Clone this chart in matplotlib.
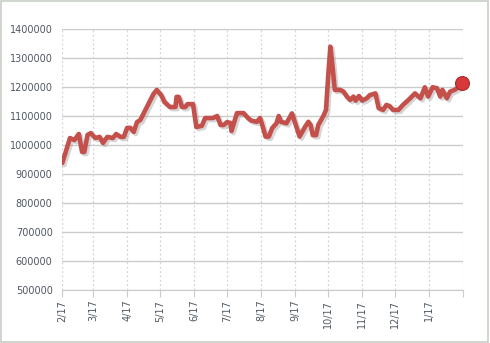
import numpy as np
import matplotlib.pyplot as plt
import matplotlib.patheffects as pe
from matplotlib.patches import Rectangle

# days since 2/1
days = [0, 7, 11, 15, 18, 20, 23, 26, 30, 34, 37, 41, 46, 49, 53, 56, 59, 62, 65, 68,
        71, 77, 83, 86, 90, 93, 98, 103, 104, 106, 109, 112, 114, 119, 122, 127, 130, 137, 141, 144,
        147, 150, 153, 154, 159, 165, 169, 172, 177, 180, 182, 185, 188, 191, 195, 197, 199, 204, 209, 212,
        216, 221, 224, 226, 228, 231, 233, 238, 240, 242, 244, 246, 248, 253, 256, 259, 262, 265, 267, 270,
        273, 277, 280, 285, 288, 292, 295, 298, 301, 306, 310, 315, 321, 326, 330, 333, 337, 341, 344, 346,
        350, 353, 357, 362, 364]
values = [938000, 1024000, 1017000, 1038000, 976000, 976000, 1035000, 1041000, 1024000, 1028000,
          1007000, 1028000, 1024000, 1038000, 1028000, 1028000, 1059000, 1059000, 1045000, 1079000,
          1086000, 1131000, 1176000, 1190000, 1172000, 1148000, 1131000, 1131000, 1166000, 1166000,
          1131000, 1131000, 1141000, 1141000, 1062000, 1066000, 1093000, 1093000, 1100000, 1069000,
          1069000, 1079000, 1076000, 1048000, 1110000, 1110000, 1093000, 1084000, 1080000, 1093000,
          1069000, 1029000, 1029000, 1058000, 1075000, 1100000, 1080000, 1075000, 1109000, 1075000,
          1029000, 1063000, 1080000, 1069000, 1034000, 1034000, 1069000, 1103000, 1121000, 1236000,
          1339000, 1270000, 1190000, 1190000, 1184000, 1167000, 1155000, 1167000, 1153000, 1169000,
          1153000, 1161000, 1172000, 1178000, 1127000, 1121000, 1138000, 1134000, 1121000, 1121000,
          1138000, 1155000, 1178000, 1161000, 1199000, 1167000, 1199000, 1196000, 1167000, 1190000,
          1161000, 1184000, 1190000, 1203000, 1213000]

month_days = [0, 28, 59, 89, 120, 150, 181, 212, 242, 273, 303, 334, 365]
month_labels = ['2/17', '3/17', '4/17', '5/17', '6/17', '7/17', '8/17', '9/17',
                '10/17', '11/17', '12/17', '1/17', '']
y_ticks = list(range(500000, 1400001, 100000))

fig = plt.figure(figsize=(4.9, 3.43), dpi=100)
fig.patches.append(Rectangle((0.002, 0.004), 0.994, 0.993, transform=fig.transFigure,
                             fill=False, edgecolor='#c8cec8', linewidth=1.2))
ax = fig.add_axes([62.3/490, 1-290/343, (463.3-62.3)/490, (290-29)/343])

grid_col = '#c9cdc9'
for v in y_ticks:
    ax.axhline(v, color=grid_col, linewidth=1.0, zorder=1)
for d in month_days:
    ax.axvline(d, color='#d2d2d8', linewidth=0.9, linestyle=(0, (1.5, 2)), zorder=1)

line, = ax.plot(days, values, color='#c4504c', linewidth=3.3, solid_joinstyle='round',
                solid_capstyle='round', zorder=3)
line.set_path_effects([pe.SimpleLineShadow(offset=(1.5, -1.5), shadow_color='#888888', alpha=0.35),
                       pe.Normal()])
ax.plot(days[-1:], values[-1:], marker='o', markersize=10, color='#d8383a',
        markeredgecolor='#a82a2a', markeredgewidth=0.8, zorder=4, clip_on=False)

ax.set_xlim(0, 365)
ax.set_ylim(500000, 1400000)
ax.set_xticks(month_days)
ax.set_xticklabels(month_labels, rotation=90, fontsize=7, color='#505862')
ax.set_yticks(y_ticks)
ax.set_yticklabels([str(v) for v in y_ticks], fontsize=7, color='#505862')
ax.tick_params(axis='y', length=0, pad=7)
ax.tick_params(axis='x', length=5, color=grid_col, pad=2)
for s in ['top', 'right', 'left']:
    ax.spines[s].set_visible(False)
ax.spines['bottom'].set_color(grid_col)

fig.savefig('out.png', dpi=100)
